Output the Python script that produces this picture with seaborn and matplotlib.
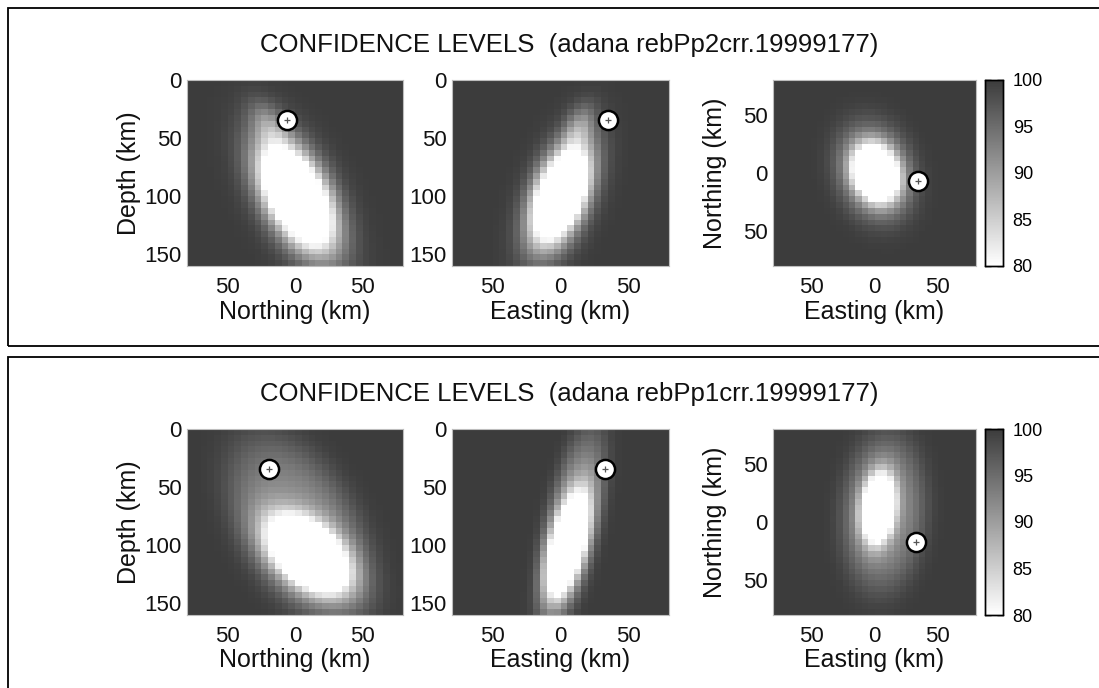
import numpy as np
import pandas as pd
import matplotlib
matplotlib.use("Agg")
import matplotlib.pyplot as plt
import seaborn as sns
from matplotlib.colors import LinearSegmentedColormap
from matplotlib.patches import Rectangle

# ---------------- data ----------------
panel_titles = ["CONFIDENCE LEVELS  (adana rebPp2crr.19999177)",
                "CONFIDENCE LEVELS  (adana rebPp1crr.19999177)"]
view_xlabels = ["Northing (km)", "Easting (km)", "Easting (km)"]
view_ylabels = ["Depth (km)", "", "Northing (km)"]

cell_km = 5
horiz_range = [-80, 80]
depth_range = [0, 160]
north_range = [-80, 80]
horiz_ticks = [-50, 0, 50]
horiz_ticklabels = ["50", "0", "50"]
depth_ticks = [0, 50, 100, 150]
depth_ticklabels = ["0", "50", "100", "150"]
north_ticks = [50, 0, -50]
north_ticklabels = ["50", "0", "50"]
conf_range = [80, 100]
cbar_ticks = [80, 85, 90, 95, 100]

# confidence-region components:
# (centre_h, centre_v, sigma_major, sigma_minor, tilt_deg, weight, flatness)
p2_north_depth = [(1, 100, 32.5, 14.8, 23, 0.5, 1), (-20, 38, 15, 8, 25, 0.06, 1)]
p2_east_depth = [(0, 99, 29, 12.2, -17, 0.5, 1), (14, 40, 14, 7, -17, 0.07, 1)]
p2_east_north = [(1, 0, 16, 11.3, -15, 0.5, 1), (0, 1, 34.5, 23.7, -13, 0.05, 2)]
p1_north_depth = [(10, 108, 23.7, 14.2, 40, 0.5, 1), (3, 85, 58, 30, 24, 0.08, 2)]
p1_east_depth = [(5, 100, 27.8, 7.7, -12, 0.5, 1), (9, 80, 58, 14, -10, 0.08, 2)]
p1_east_north = [(3, 12, 17.8, 7.7, 5, 0.5, 1), (7, 8, 47, 23, 3, 0.08, 2)]

# reference location markers per view: (horizontal, vertical)
p2_markers = [(-6, 34), (35, 34), (34, -7)]
p1_markers = [(-19, 34), (33, 34), (33, -17.5)]

panels = [
    (panel_titles[0], [p2_north_depth, p2_east_depth, p2_east_north], p2_markers),
    (panel_titles[1], [p1_north_depth, p1_east_depth, p1_east_north], p1_markers),
]

# ---------------- style ----------------
sns.set_theme(style="white")
plt.rcParams["font.family"] = ["Liberation Sans", "DejaVu Sans"]
NARROW = ["Liberation Sans Narrow", "Liberation Sans", "DejaVu Sans"]

W, H = 1099, 688
fig = plt.figure(figsize=(W / 100, H / 100), dpi=100)
cmap = LinearSegmentedColormap.from_list("conf", ["#ffffff", "#3c3c3c"])

hc = np.arange(horiz_range[0] + cell_km / 2, horiz_range[1], cell_km)
dc = np.arange(depth_range[0] + cell_km / 2, depth_range[1], cell_km)
nc = np.arange(north_range[1] - cell_km / 2, north_range[0], -cell_km)


def conf_frame(components, vcentres):
    hh, vv = np.meshgrid(hc, vcentres)
    p = np.zeros_like(hh)
    for cx, cy, sa, sb, tilt, w, k in components:
        t = np.deg2rad(tilt)
        dx, dy = hh - cx, vv - cy
        u = dx * np.sin(t) + dy * np.cos(t)
        v = dx * np.cos(t) - dy * np.sin(t)
        q = 0.5 * ((u / sa) ** 2 + (v / sb) ** 2)
        p += w * np.exp(-(q ** k))
    conf = np.clip(100 * (1 - p), conf_range[0], conf_range[1])
    return pd.DataFrame(conf, index=np.round(vcentres, 1), columns=np.round(hc, 1))


def h_idx(v):
    return (np.asarray(v, float) - horiz_range[0]) / cell_km


def d_idx(v):
    return (np.asarray(v, float) - depth_range[0]) / cell_km


def n_idx(v):
    return (north_range[1] - np.asarray(v, float)) / cell_km


def px(x):
    return x / W


def py(y):
    return 1 - y / H


ax_x = [(187, 403), (452, 669), (773, 976)]
cbar_x = (985, 1003)
row_y = [(80, 266), (429, 615)]
title_y = [45, 394]
box_y = [(8, 346), (357, 692)]

for r, (title, comps, markers) in enumerate(panels):
    y0, y1 = row_y[r]
    fig.add_artist(Rectangle((px(8), py(box_y[r][1])), px(1110 - 8),
                             (box_y[r][1] - box_y[r][0]) / H,
                             transform=fig.transFigure, fill=False,
                             ec="black", lw=1.3))
    fig.text(px(569), py(title_y[r]), title, ha="center", va="center",
             fontsize=18.5, color="#111111")
    cax = fig.add_axes([px(cbar_x[0]), py(y1), px(cbar_x[1] - cbar_x[0]), (y1 - y0) / H])
    for k in range(3):
        x0, x1 = ax_x[k]
        ax = fig.add_axes([px(x0), py(y1), px(x1 - x0), (y1 - y0) / H])
        map_view = k == 2
        vcent = nc if map_view else dc
        df = conf_frame(comps[k], vcent)
        sns.heatmap(df, ax=ax, cmap=cmap, vmin=conf_range[0], vmax=conf_range[1],
                    cbar=(k == 2), cbar_ax=cax if k == 2 else None,
                    xticklabels=False, yticklabels=False)
        ax.set_aspect("auto")
        ax.set_xticks(h_idx(horiz_ticks))
        ax.set_xticklabels(horiz_ticklabels, fontfamily=NARROW, fontsize=16)
        if map_view:
            ax.set_yticks(n_idx(north_ticks))
            ax.set_yticklabels(north_ticklabels, fontfamily=NARROW, fontsize=16)
        else:
            ax.set_yticks(d_idx(depth_ticks))
            ax.set_yticklabels(depth_ticklabels, fontfamily=NARROW, fontsize=16)
        ax.tick_params(axis="x", length=0, pad=8, colors="#111111")
        ax.tick_params(axis="y", length=0, pad=4, colors="#111111")
        ax.set_xlabel(view_xlabels[k], fontsize=18, labelpad=1, color="#111111")
        ax.set_ylabel(view_ylabels[k], fontsize=18,
                      labelpad=11 if map_view else 2, color="#111111")
        for s in ax.spines.values():
            s.set_visible(True)
            s.set_color("#bdbdbd")
            s.set_linewidth(0.8)
        mh, mv = markers[k]
        mx = h_idx(mh)
        my = n_idx(mv) if map_view else d_idx(mv)
        sns.scatterplot(x=[mx], y=[my], ax=ax, s=190, color="white",
                        edgecolor="black", linewidth=1.8, zorder=5, legend=False)
        ax.scatter([mx], [my], marker="+", s=14, color="#555555",
                   linewidths=0.9, zorder=6)
    cax.set_yticks(cbar_ticks)
    cax.set_yticklabels([str(t) for t in cbar_ticks], fontfamily=NARROW, fontsize=13)
    cax.tick_params(axis="y", direction="in", length=4, width=1, left=True,
                    right=True, pad=7, colors="black")
    for s in cax.spines.values():
        s.set_visible(True)
        s.set_color("black")
        s.set_linewidth(1.0)

fig.savefig("out.png", dpi=100, facecolor="white")
